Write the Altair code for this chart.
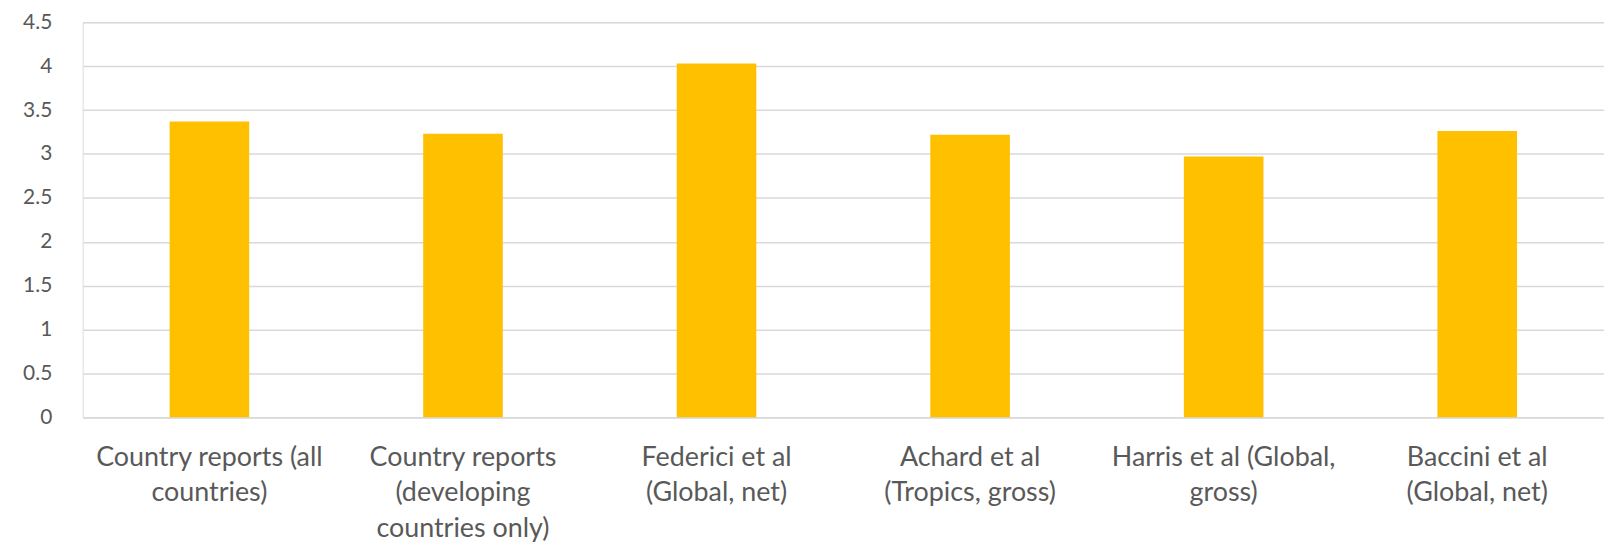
import altair as alt
import pandas as pd

categories = [
    "Country reports (all\ncountries)",
    "Country reports\n(developing\ncountries only)",
    "Federici et al\n(Global, net)",
    "Achard et al\n(Tropics, gross)",
    "Harris et al (Global,\ngross)",
    "Baccini et al\n(Global, net)",
]
values = [3.37, 3.23, 4.03, 3.22, 2.97, 3.26]
y_ticks = [0, 0.5, 1, 1.5, 2, 2.5, 3, 3.5, 4, 4.5]

df = pd.DataFrame({"cat": categories, "val": values})

FONT = "Lato"
TEXT = "#595959"
GRID = "#d9d9d9"

chart = alt.Chart(df).mark_bar(size=80, color="#FFC000").encode(
    x=alt.X(
        "cat:N",
        sort=categories,
        title=None,
        scale=alt.Scale(paddingInner=0, paddingOuter=0),
        axis=alt.Axis(
            labelAngle=0,
            labelExpr="split(datum.label, '\\n')",
            labelFont=FONT,
            labelFontSize=27,
            labelColor=TEXT,
            labelLineHeight=36,
            labelPadding=27,
            labelBaseline="top",
            ticks=False,
            domainColor=GRID,
            domainWidth=1.5,
            grid=False,
            labelLimit=400,
        ),
    ),
    y=alt.Y(
        "val:Q",
        title=None,
        scale=alt.Scale(domain=[0, 4.5], nice=False),
        axis=alt.Axis(
            values=y_ticks,
            labelExpr="datum.value == 0 ? '0' : format(datum.value, '')",
            labelFont=FONT,
            labelFontSize=21,
            labelColor=TEXT,
            labelPadding=31,
            ticks=False,
            domain=False,
            gridColor=GRID,
            gridWidth=1.5,
        ),
    ),
).properties(
    width=1529,
    height=397,
    autosize=alt.AutoSizeParams(type="none"),
    padding={"left": 75, "top": 13, "right": 0, "bottom": 126},
).configure_view(stroke=None).configure(background="white")

chart.save("out.html", embed_options={"renderer": "svg", "actions": False})
